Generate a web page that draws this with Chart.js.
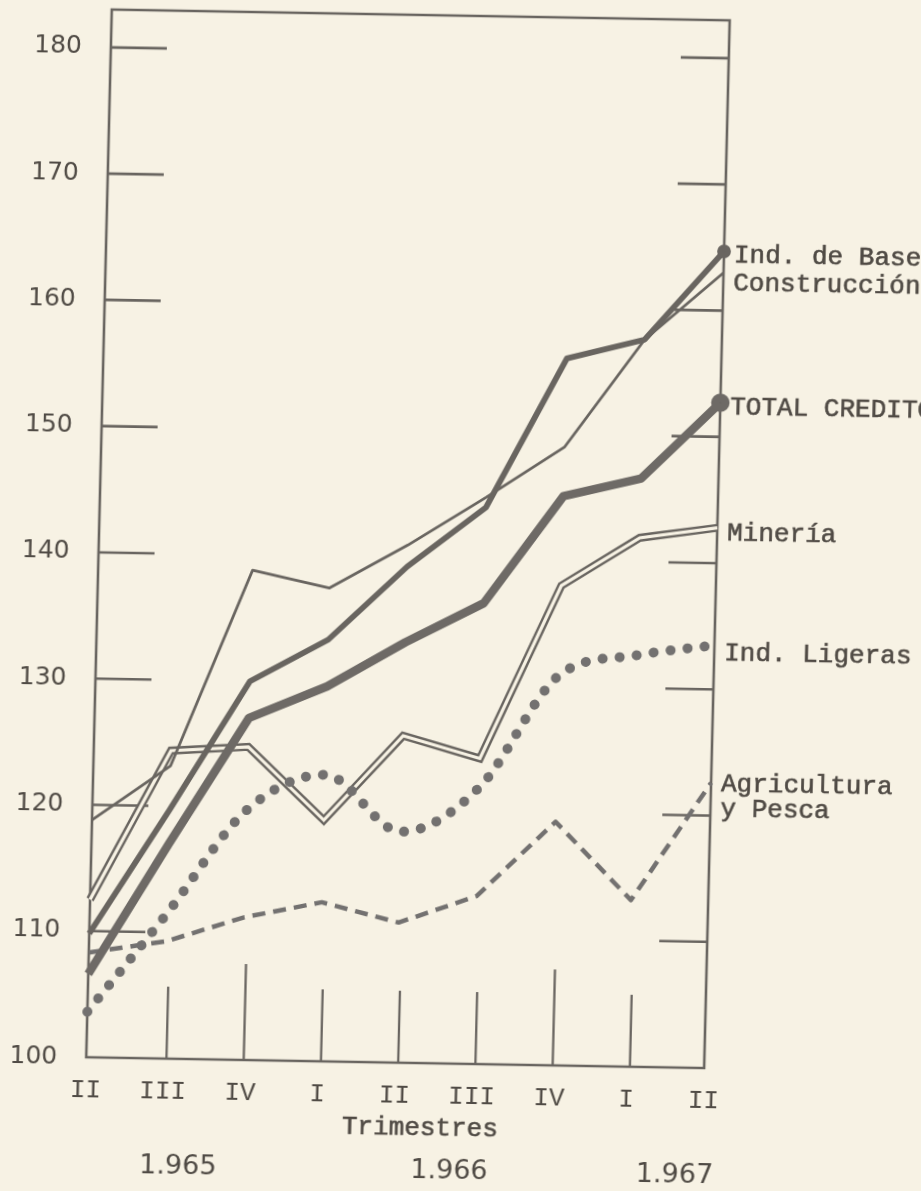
<!DOCTYPE html>
<html><head><meta charset="utf-8">
<script src="https://cdn.jsdelivr.net/npm/chart.js@4.4.0/dist/chart.umd.min.js"></script>
<style>
html,body{margin:0;padding:0;background:#f7f2e4;overflow:hidden;width:921px;height:1191px;}
#wrap{position:absolute;left:0;top:0;width:921px;height:1191px;transform-origin:410px 540px;transform:matrix(1,0.0175,-0.0244,1,0,0);}
canvas{display:block;}
</style></head><body>
<div id="wrap"><canvas id="c" width="921" height="1191"></canvas></div>
<script>
// ---- data ----
const categories   = ['II','III','IV','I','II','III','IV','I','II'];
const years        = ['1.965','1.966','1.967'];
const indBase      = [109.8, 119.7, 130.0, 133.4, 139.3, 144.1, 156.0, 157.6, 164.7];
const construccion = [118.8, 123.2, 138.8, 137.5, 141.0, 144.9, 149.0, 157.6, 163.0];
const totalCredito = [106.6, 117.0, 127.1, 129.7, 133.3, 136.5, 145.1, 146.6, 152.7];
const mineria      = [112.5, 124.4, 124.8, 119.1, 125.9, 124.2, 138.0, 141.9, 142.8];
const indLigeras   = [103.6, 111.5, 119.8, 122.7, 118.3, 121.9, 130.9, 132.6, 133.5];
const agricultura  = [108.3, 109.3, 111.3, 112.6, 111.1, 113.3, 119.3, 113.2, 122.6];
const yTickValues  = [100, 110, 120, 130, 140, 150, 160, 170, 180];

const INK  = '#696560';
const TEXT = '#504b45';
const BG   = '#f7f2e4';

const seriesLabels = [
  {lines:['Ind. de Base'], data: indBase, dy: 4},
  {lines:['Construcción'], data: construccion, dy: 11},
  {lines:['TOTAL CREDITO'], data: totalCredito, dy: 5},
  {lines:['Minería'], data: mineria, dy: 6},
  {lines:['Ind. Ligeras'], data: indLigeras, dy: 8},
  {lines:['Agricultura','y Pesca'], data: agricultura, dy: 1}
];

const framePlugin = {
  id: 'frame',
  beforeDatasetsDraw(chart) {
    const {ctx, chartArea: a, scales: {x, y}} = chart;
    ctx.save();
    ctx.strokeStyle = INK;
    ctx.lineWidth = 2.6;
    ctx.lineCap = 'square';
    ctx.beginPath();
    ctx.moveTo(a.left, a.bottom); ctx.lineTo(a.left, a.top);
    ctx.lineTo(a.right, a.top); ctx.lineTo(a.right, a.bottom);
    ctx.lineTo(a.left, a.bottom);
    ctx.stroke();
    ctx.lineCap = 'butt';
    yTickValues.forEach(v => {
      if (v <= 100) return;
      const py = y.getPixelForValue(v);
      ctx.beginPath();
      ctx.moveTo(a.left, py); ctx.lineTo(a.left + 56, py);
      ctx.moveTo(a.right - 48, py); ctx.lineTo(a.right, py);
      ctx.stroke();
    });
    ctx.lineWidth = 2.3;
    categories.forEach((c, i) => {
      if (i === 0 || i === categories.length - 1) return;
      const px = x.getPixelForValue(i) + 3;
      const h = c === 'IV' ? 7.6 : 5.7;
      ctx.beginPath();
      ctx.moveTo(px, a.bottom); ctx.lineTo(px, y.getPixelForValue(100 + h));
      ctx.stroke();
    });
    ctx.restore();
  },
  afterDraw(chart) {
    const {ctx, chartArea: a, scales: {x, y}} = chart;
    ctx.save();
    ctx.fillStyle = TEXT;
    ctx.strokeStyle = TEXT;
    ctx.textBaseline = 'middle';
    // y tick labels
    ctx.textAlign = 'right';
    ctx.font = '25px "DejaVu Sans", sans-serif';
    yTickValues.forEach(v => ctx.fillText(String(v), a.left - 29, y.getPixelForValue(v)));
    // series labels (typewriter)
    ctx.textAlign = 'left';
    ctx.lineWidth = 0.6;
    ctx.font = '26px "Liberation Mono", "DejaVu Sans Mono", monospace';
    seriesLabels.forEach(s => {
      const py = y.getPixelForValue(s.data[s.data.length - 1]) + s.dy;
      s.lines.forEach((t, k) => {
        ctx.fillText(t, a.right + 10, py + k * 25);
        ctx.strokeText(t, a.right + 10, py + k * 25);
      });
    });
    ctx.textAlign = 'center';
    const tx = x.getPixelForValue(4.34);
    ctx.fillText('Trimestres', tx, 1128);
    ctx.strokeText('Trimestres', tx, 1128);
    ctx.font = '27px "DejaVu Sans", sans-serif';
    const yearPos = [1.22, 4.73, 7.65];
    years.forEach((t, i) => ctx.fillText(t, x.getPixelForValue(yearPos[i]), 1171));
    ctx.restore();
  }
};

const base = {borderColor: INK, backgroundColor: INK, pointRadius: 0, fill: false, tension: 0, clip: false, borderJoinStyle: 'round'};

new Chart(document.getElementById('c'), {
  type: 'line',
  data: {
    labels: categories,
    datasets: [
      Object.assign({}, base, {label: 'Ind. de Base', data: indBase, borderWidth: 5.8,
        pointRadius: c => c.dataIndex === indBase.length - 1 ? 4 : 0}),
      Object.assign({}, base, {label: 'Construcción', data: construccion, borderWidth: 2.8}),
      Object.assign({}, base, {label: 'TOTAL CREDITO', data: totalCredito, borderWidth: 8.5, borderColor: '#6e6a66',
        pointRadius: c => c.dataIndex === totalCredito.length - 1 ? 5 : 0}),
      Object.assign({}, base, {label: 'Ind. Ligeras', data: indLigeras, borderWidth: 10, borderDash: [0.1, 17],
        borderCapStyle: 'round', cubicInterpolationMode: 'monotone', borderColor: '#737170'}),
      Object.assign({}, base, {label: 'Agricultura y Pesca', data: agricultura, borderWidth: 4.5, borderDash: [13, 8],
        borderColor: '#737170'}),
      Object.assign({}, base, {label: 'Minería', data: mineria, borderWidth: 3.2, borderColor: BG, order: 1, borderJoinStyle: 'miter'}),
      Object.assign({}, base, {label: 'Minería', data: mineria, borderWidth: 8, order: 2, borderJoinStyle: 'miter'})
    ]
  },
  options: {
    responsive: false,
    animation: false,
    devicePixelRatio: 1,
    layout: {padding: {left: 0, right: 204, top: 15, bottom: 0}},
    plugins: {legend: {display: false}, tooltip: {enabled: false}, title: {display: false}},
    scales: {
      x: {
        type: 'category',
        grid: {display: false, drawTicks: false},
        border: {display: false},
        ticks: {autoSkip: false, maxRotation: 0, padding: 18, color: TEXT,
          font: {family: '"Liberation Mono", "DejaVu Sans Mono", monospace', size: 26}},
        afterFit: s => { s.height = 128; }
      },
      y: {
        min: 100, max: 183,
        grid: {display: false, drawTicks: false},
        border: {display: false},
        afterBuildTicks: s => { s.ticks = yTickValues.map(v => ({value: v})); },
        ticks: {display: false},
        afterFit: s => { s.width = 99; }
      }
    }
  },
  plugins: [framePlugin]
});
</script>
</body></html>
